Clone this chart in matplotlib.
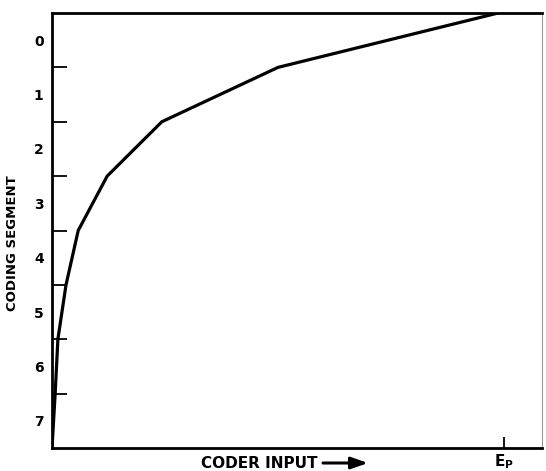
import matplotlib
matplotlib.use("Agg")
import matplotlib.pyplot as plt

# coder input (fraction of Ep) at each segment boundary, from bottom (segment 7 end) to top
segment_edges = [8, 7, 6, 5, 4, 3, 2, 1, 0]
coder_input = [0.0, 0.007, 0.013, 0.031, 0.058, 0.122, 0.243, 0.50, 0.987]
segment_labels = ["0", "1", "2", "3", "4", "5", "6", "7"]

plt.rcParams["font.family"] = ["DejaVu Sans"]
plt.rcParams["mathtext.fontset"] = "dejavusans"

fig = plt.figure(figsize=(5.46, 4.71), dpi=100)
ax = fig.add_axes([52 / 546, 1 - 448 / 471, 490 / 546, 435 / 471])

ax.plot(coder_input, segment_edges, color="black", linewidth=2.3, solid_joinstyle="miter")

ax.set_xlim(0, 1.084)
ax.set_ylim(8, 0)

# spines
for side in ["left", "bottom", "top"]:
    ax.spines[side].set_linewidth(2.0)
ax.spines["right"].set_linewidth(0.8)
ax.spines["right"].set_color("#999999")

# y axis: labels in the middle of each segment, ticks at boundaries
ax.set_yticks([i + 0.5 for i in range(len(segment_labels))])
ax.set_yticklabels(segment_labels, fontsize=10, fontweight="bold")
ax.tick_params(axis="y", which="major", length=0, pad=6)
ax.set_yticks(range(1, 8), minor=True)
ax.tick_params(axis="y", which="minor", direction="in", length=11, width=1.3)

# x axis: single tick at Ep
ax.set_xticks([1.0])
ax.set_xticklabels([r"$\mathbf{E_P}$"], fontsize=11)
ax.tick_params(axis="x", direction="in", length=8, width=1.3, pad=3)

ax.set_ylabel("CODING SEGMENT", fontsize=9.5, fontweight="bold")
ax.yaxis.set_label_coords(-0.068, 0.47)

fig.text(201 / 546, 1 - 463 / 471, "CODER INPUT", fontsize=11, fontweight="bold",
         ha="left", va="center")
ax.annotate("", xy=(368, 471 - 463), xytext=(323, 471 - 463), xycoords="figure pixels",
            textcoords="figure pixels",
            arrowprops=dict(arrowstyle="-|>,head_length=1.0,head_width=0.35",
                            color="black", lw=2.2, shrinkA=0, shrinkB=0))

fig.savefig("out.png", dpi=100)
